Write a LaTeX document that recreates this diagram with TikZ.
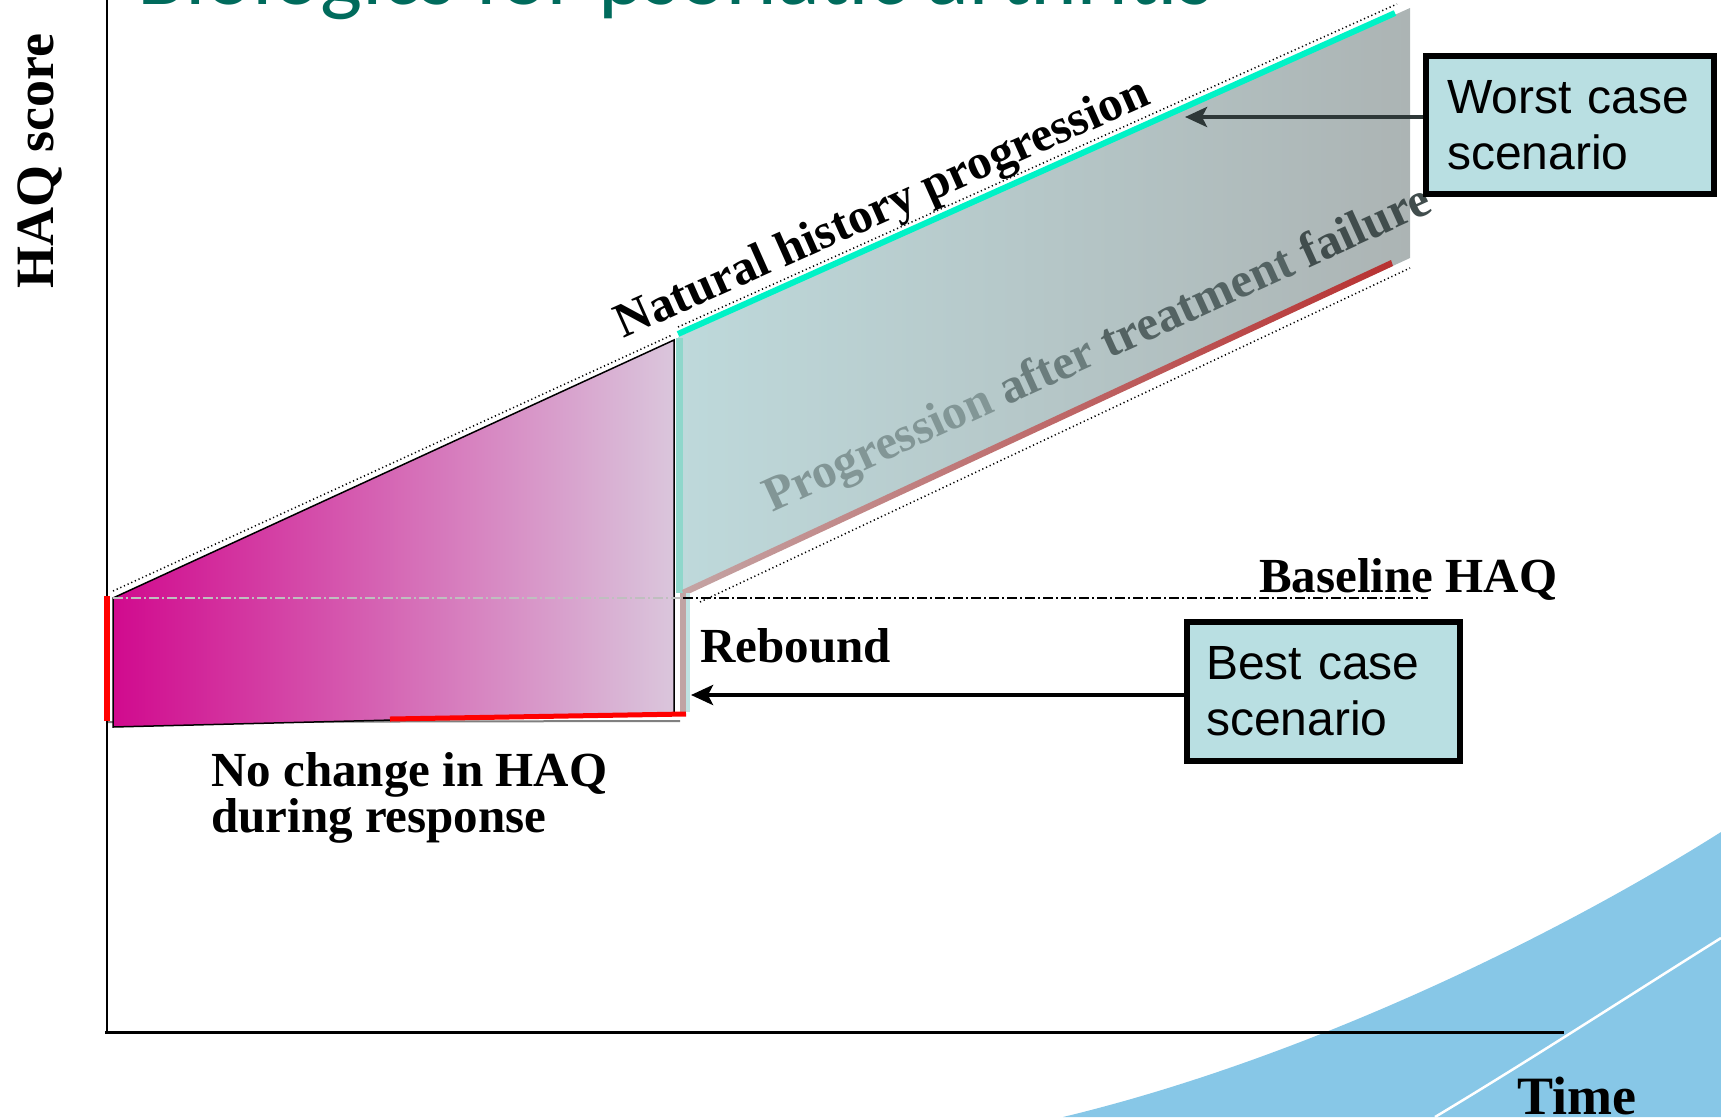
\documentclass[tikz,border=0pt]{standalone}
\usepackage{fontspec}
\setmainfont{Liberation Serif}
\newfontfamily\labelfont{Liberation Serif}
\newfontfamily\boxfont{Liberation Sans}
\newfontfamily\titlefont{Carlito}
\usetikzlibrary{arrows.meta,positioning}

\definecolor{magLeft}{HTML}{D10A8E}
\definecolor{magMid}{HTML}{D67BB3}
\definecolor{magRight}{HTML}{DAC6DC}
\definecolor{bandLeft}{HTML}{BED9DB}
\definecolor{bandRight}{HTML}{ACB4B4}
\definecolor{naturalCyan}{HTML}{00F2C6}
\definecolor{stripTeal}{HTML}{8FD7CB}
\definecolor{failLeft}{HTML}{C4A4A4}
\definecolor{failRight}{HTML}{B83232}
\definecolor{reboundPink}{HTML}{C0A4A4}
\definecolor{reboundEdge}{HTML}{BFE3E3}
\definecolor{caseFill}{HTML}{B9DFE2}
\definecolor{titleGreen}{HTML}{006B5C}
\definecolor{swooshBlue}{HTML}{87C7E7}
\definecolor{worstArrow}{HTML}{2E3838}
\definecolor{progA}{HTML}{829696}
\definecolor{progB}{HTML}{6B7D7D}
\definecolor{progC}{HTML}{546363}
\definecolor{progD}{HTML}{414D4D}

\begin{document}
\begin{tikzpicture}
[x=1pt,y=-1pt,
  labelDecorate/.style={inner sep=0pt,font=\labelfont\bfseries\fontsize{49}{40}\selectfont},%
  axisDecorate/.style={inner sep=0pt,font=\labelfont\bfseries\fontsize{54}{54}\selectfont},%
  caseDecorate/.style={draw,line width=6pt,fill=caseFill,inner sep=0pt,align=left,%
    font=\boxfont\fontsize{48}{56}\selectfont},%
  arrowDecorate/.style={line width=4.5pt,-{Stealth[length=22pt,width=20pt,inset=5pt]}},%
  dotDecorate/.style={line width=1.5pt,dash pattern=on 1.2pt off 2.8pt},%
  baseDecorate/.style={line width=1.6pt,dash pattern=on 10pt off 3pt on 2pt off 3pt}]
\clip (0,0) rectangle (1721,1117);

%% background swoosh
\fill[swooshBlue] (1063,1117) .. controls (1300,1060) and (1550,940) .. (1721,832)
  -- (1721,1117) -- cycle;
\draw[white,line width=2.5pt] (1435,1117) .. controls (1530,1060) and (1630,995) .. (1721,938);

%% title (cut by the top edge)
\node (titleText) at (137,4) [anchor=base west,inner sep=0pt,text=titleGreen,
  font=\titlefont\fontsize{89}{89}\selectfont] {Biologics for psoriatic arthritis};

%% band after treatment failure
\shade[left color=bandLeft,right color=bandRight]
  (678,337) -- (1410,8) -- (1410,258) -- (683,593) -- cycle;
\draw[stripTeal,line width=7pt] (679,338) -- (679,593);
\shade[left color=failLeft,right color=failRight]
  (682,590) -- (1391,260) -- (1393,266) -- (684,596) -- cycle;
\draw[reboundEdge,line width=9pt] (685,593) -- (685,712);
\draw[reboundPink,line width=6pt] (683,593) -- (683,712);
\draw[naturalCyan,line width=6pt] (678,334) -- (1395,13);

%% response phase
\draw[gray,line width=2pt] (106,722) -- (680,721);
\shade[left color=magLeft,middle color=magMid,right color=magRight]
  (113,598) -- (674,340) -- (674,713) -- (113,727) -- cycle;
\draw[line width=1.5pt] (113,598) -- (674,340) -- (674,713) -- (113,727) -- cycle;

%% dotted edges
\foreach \sx/\sy/\ex/\ey in {
  113/591/672/335, 678/327/1397/4, 700/602/1410/268}
{
  \draw[dotDecorate] (\sx,\sy) -- (\ex,\ey);
}

%% baseline HAQ
\draw[baseDecorate,black!25] (113,598) -- (683,598);
\draw[baseDecorate] (683,598) -- (1428,598);

%% axes
\draw[line width=2pt] (106.5,0) -- (106.5,1033);
\draw[line width=3pt] (105,1032) -- (1564,1032);
\draw[red,line width=6pt] (107,596) -- (107,721);
\draw[red,line width=5pt] (390,719) -- (686,714);

%% labels
\node (haqLabel) at (53,161) [axisDecorate,anchor=base,rotate=90] {HAQ score};
\node (timeLabel) at (1517,1114) [axisDecorate,anchor=base west] {Time};
\node (naturalLabel) at (888,221) [labelDecorate,anchor=base,rotate=24] {Natural history progression};
\node (progLabel) at (1103,362) [labelDecorate,anchor=base,rotate=24.5]
  {\color{progA}Progression \color{progB}after \color{progC}treatment \color{progD}failure};
\node (reboundLabel) at (700,662) [labelDecorate,anchor=base west] {Rebound};
\node (baselineLabel) at (1259,592) [labelDecorate,anchor=base west] {Baseline HAQ};
\node (noChangeLabel) at (211,752) [labelDecorate,anchor=north west,align=left]
  {No change in HAQ\\during response};

%% scenario boxes
\node (worstBox) at (1570,125) [caseDecorate,minimum width=288pt,minimum height=138pt,
  text width=246pt] {Worst case\\scenario};
\node (bestBox) at (1323.5,691.5) [caseDecorate,minimum width=273pt,minimum height=139pt,
  text width=235pt] {Best case\\scenario};
\coordinate (worstTip) at (1185,117);
\coordinate (bestTip) at (691,695);
\draw[arrowDecorate,worstArrow] (worstBox.west |- worstTip) -- (worstTip);
\draw[arrowDecorate] (bestBox.west |- bestTip) -- (bestTip);
\end{tikzpicture}
\end{document}
